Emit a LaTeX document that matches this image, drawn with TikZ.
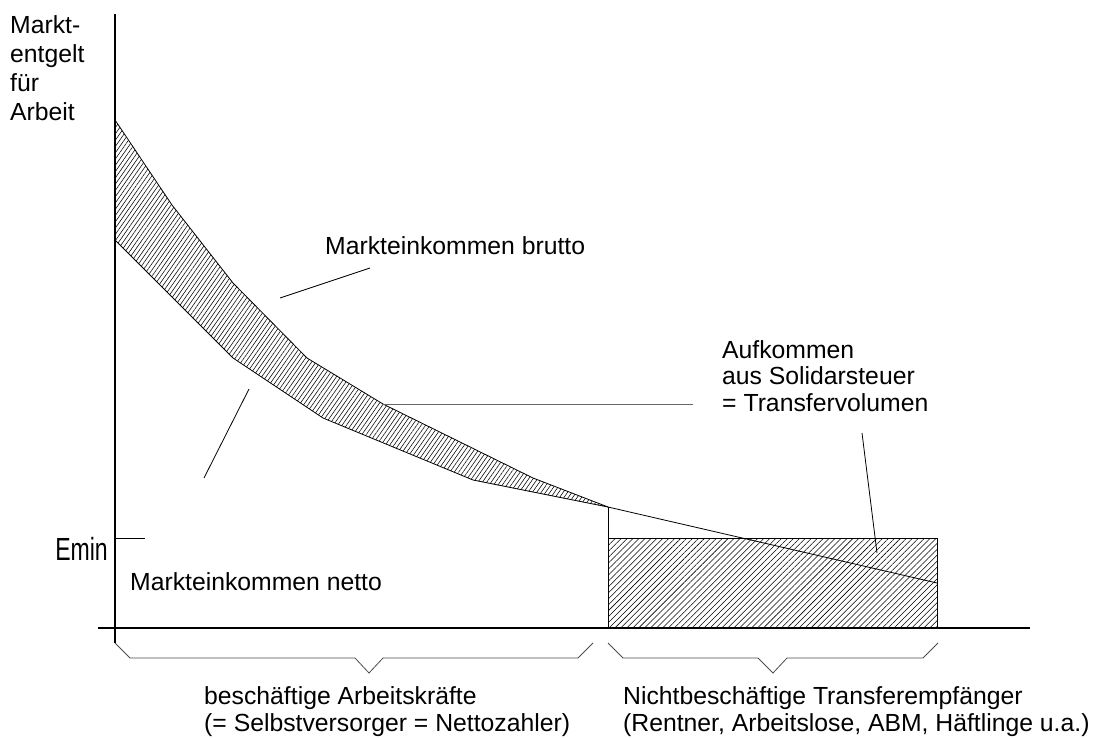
\documentclass[tikz,border=0pt]{standalone}
\usepackage{fontspec}
\setmainfont{Liberation Sans}
\usetikzlibrary{positioning,patterns.meta}

\tikzset{
  axis/.style={line width=1.8pt},
  curve/.style={line width=0.8pt},
  leader/.style={line width=0.8pt},
  brace/.style={line width=0.8pt, black!70},
  lbl/.style={font=\fontsize{24.75}{29}\selectfont, inner sep=0pt, align=left},
  bandhatch/.style={pattern={Lines[angle=55,distance=3.6pt,line width=0.55pt]}},
  blockhatch/.style={pattern={Lines[angle=45,distance=4.2pt,line width=0.55pt]}},
}

\begin{document}
\begin{tikzpicture}[x=1pt,y=-1pt]
	\useasboundingbox (0,0) rectangle (1100,738);
	% points of the two curves
	\coordinate (b0) at (115,120);
	\coordinate (b1) at (172,205);
	\coordinate (b2) at (233,283);
	\coordinate (b3) at (307,358);
	\coordinate (b4) at (383,404);
	\coordinate (b5) at (533,478);
	\coordinate (b6) at (608,507);
	\coordinate (b7) at (937,583);
	\coordinate (n0) at (115,240);
	\coordinate (n1) at (233,358);
	\coordinate (n2) at (323,418);
	\coordinate (n3) at (473,480);
	\coordinate (r0) at (608,538);
	\coordinate (r1) at (937,628);
	
	\fill[bandhatch] (b0)--(b1)--(b2)--(b3)--(b4)--(b5)--(b6)--(n3)--(n2)--(n1)--(n0)--cycle;
	\draw[curve] (b0)--(b1)--(b2)--(b3)--(b4)--(b5)--(b6)--(b7);
	\draw[curve] (n0)--(n1)--(n2)--(n3)--(b6);
	\draw[curve, blockhatch] (r0) rectangle (r1);
	\draw[curve] (b6)--(r0);
	
	% axes
	\draw[axis] (115,14)--(115,643);
	\draw[axis] (98,628)--(1030,628);
	\draw[leader] (115,538)--++(30,0);
	
	% labels
	\node[lbl, anchor=north west] (ylabel) at (10,15) {Markt-\\entgelt\\für\\Arbeit};
	\node[lbl, font=\fontsize{32}{32}\selectfont, anchor=base east] (emin) at (108,560) {\scalebox{0.72}[1]{Emin}};
	\node[lbl, anchor=base west] (brutto) at (325,254) {Markteinkommen brutto};
	\node[lbl, anchor=base west] (netto) at (130,590) {Markteinkommen netto};
	\node[lbl, font=\fontsize{24.75}{26.5}\selectfont, anchor=north west] (aufkommen) at (722,340) {Aufkommen\\aus Solidarsteuer\\= Transfervolumen};
	\node[lbl, font=\fontsize{24.75}{27}\selectfont, anchor=north west] (beschaeftigte) at (204,686) {beschäftige Arbeitskräfte\\(= Selbstversorger = Nettozahler)};
	\node[lbl, font=\fontsize{24.75}{27}\selectfont, anchor=north west] (transfer) at (623,686) {Nichtbeschäftige Transferempfänger\\(Rentner, Arbeitslose, ABM, Häftlinge u.a.)};
	
	% leader lines
	\coordinate (lb1) at (280,298);
	\coordinate (lb2) at (370,268);
	\coordinate (ln1) at (249,389);
	\coordinate (ln2) at (204,478);
	\coordinate (la2) at (693,404);
	\coordinate (la3) at (862,433);
	\coordinate (la4) at (877,553);
	\draw[leader] (lb1)--(lb2);
	\draw[leader] (ln1)--(ln2);
	\draw[leader, black!60] (b4)--(la2);
	\draw[leader] (la3)--(la4);
	
	% braces
	\draw[brace] (115,643)--++(15,15)--(355,658)--++(14,15)--++(14,-15)--(578,658)--++(15,-15);
	\draw[brace] (608,643)--++(15,15)--(758,658)--++(15,15)--++(14,-15)--(923,658)--++(15,-15);
\end{tikzpicture}
\end{document}
